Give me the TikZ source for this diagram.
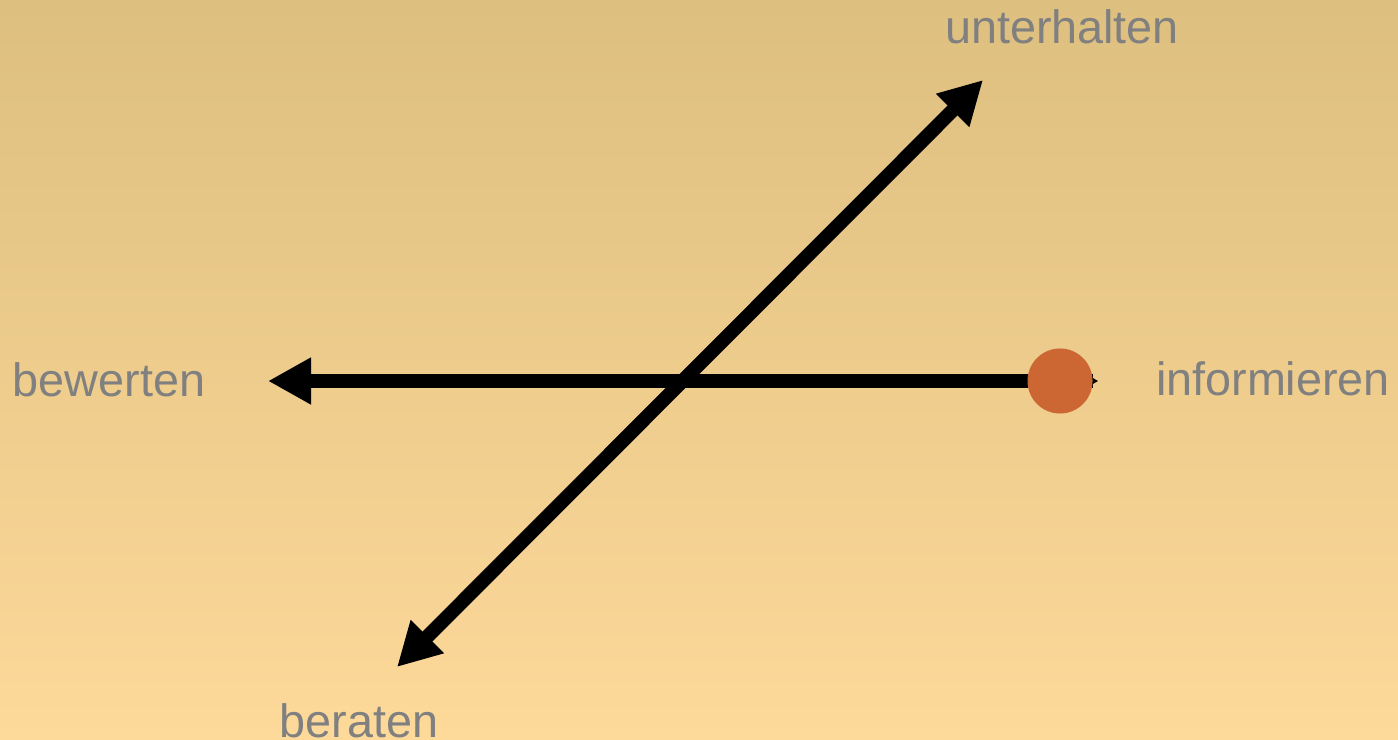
\documentclass[tikz,border=0pt]{standalone}
\usepackage{fontspec}
\setmainfont{Liberation Sans}
\usetikzlibrary{arrows.meta,positioning}
\definecolor{bgtop}{HTML}{DDBF7F}
\definecolor{bgbottom}{HTML}{FDD99A}
\definecolor{labelgray}{HTML}{808080}
\definecolor{dotorange}{HTML}{CC6633}

\begin{document}
\begin{tikzpicture}[x=0.01cm, y=-0.01cm,
    axislabel/.style={font=\fontsize{13.3}{16}\selectfont, text=labelgray, anchor=base, inner sep=0pt},
    axisarrow/.style={line width=0.14cm, black}]
    % Background
    \shade[top color=bgtop, bottom color=bgbottom] (0,0) rectangle (1398,740);
    \useasboundingbox (0,0) rectangle (1398,740);

    % Labels
    \node[axislabel] (unterhalten) at (1062,44) {unterhalten};
    \node[axislabel] (bewerten) at (109,396) {bewerten};
    \node[axislabel] (informieren) at (1273,395) {informieren};
    \node[axislabel] (beraten) at (359,737) {beraten};

    % Arrow ends
    \coordinate (topend) at (983,80);
    \coordinate (bottomend) at (397,667);
    \coordinate (leftend) at (268,381);
    \coordinate (rightend) at (1098,381);

    % Axes
    \draw[axisarrow, {Triangle[length=0.43cm, width=0.44cm]}-{Triangle[length=0.43cm, width=0.44cm]}]
        (bottomend) -- (topend);
    \draw[axisarrow, {Triangle[length=0.43cm, width=0.44cm]}-{Triangle[length=0.055cm, width=0.06cm]}]
        (leftend) -- (rightend);

    % Marker
    \node[circle, fill=dotorange, minimum size=0.65cm, inner sep=0pt] (marker) at (1060,381) {};
\end{tikzpicture}
\end{document}
